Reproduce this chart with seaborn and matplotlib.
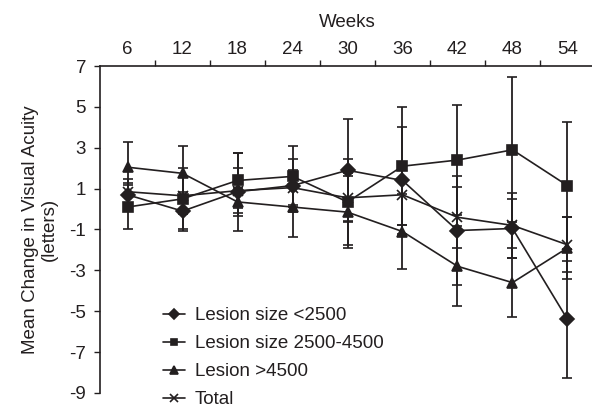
import pandas as pd
import matplotlib.pyplot as plt
import seaborn as sns

sns.set_style("white")
plt.rcParams["font.family"] = ["Liberation Sans", "DejaVu Sans"]

INK = "#231f20"
FS = 13.5

weeks = [6, 12, 18, 24, 30, 36, 42, 48, 54]
groups = ["Lesion size <2500", "Lesion size 2500-4500", "Lesion >4500", "Total"]

small = [0.7, -0.1, 0.85, 1.15, 1.9, 1.4, -1.05, -0.95, -5.4]
small_err = [0.6, 0.95, 1.9, 1.3, 2.5, 2.6, 2.65, 1.45, 2.85]
mid = [0.1, 0.5, 1.4, 1.6, 0.35, 2.1, 2.4, 2.9, 1.15]
mid_err = [1.1, 1.5, 1.35, 1.5, 2.1, 2.9, 2.7, 3.55, 3.1]
large = [2.05, 1.75, 0.35, 0.1, -0.15, -1.1, -2.8, -3.6, -1.9]
large_err = [1.25, 1.35, 0.7, 1.45, 1.75, 1.85, 1.95, 1.7, 1.5]
total = [0.85, 0.65, 0.9, 1.05, 0.55, 0.7, -0.4, -0.8, -1.75]
total_err = [0.6, 0.9, 1.1, 0.85, 1.2, 1.5, 1.5, 1.6, 1.35]

yticks = [7, 5, 3, 1, -1, -3, -5, -7, -9]

series = {
    groups[0]: (small, small_err, "D", 7),
    groups[1]: (mid, mid_err, "s", 6.5),
    groups[2]: (large, large_err, "^", 7),
    groups[3]: (total, total_err, "x", 7),
}

fig = plt.figure(figsize=(5.92, 4.08), dpi=100)
ax = fig.add_axes([0.169, 0.037, 0.836, 0.801])

for name, (vals, errs, mk, ms) in series.items():
    df = pd.DataFrame({"week": weeks, "change": vals})
    ax.errorbar(weeks, vals, yerr=errs, fmt="none", ecolor=INK,
                elinewidth=1.3, capsize=3.8, capthick=1.2, zorder=2)
    sns.lineplot(data=df, x="week", y="change", ax=ax, color=INK,
                 marker=mk, markersize=ms, markeredgecolor=INK,
                 markeredgewidth=1.2, linewidth=1.2, label=name, zorder=3)

ax.set_xlim(3, 57)
ax.set_ylim(-9, 7)

# x axis sits on top, ticks between categories, labels at centres
ax.xaxis.tick_top()
ax.xaxis.set_label_position("top")
ax.set_xticks(weeks)
ax.set_xticklabels([str(w) for w in weeks])
ax.set_xticks([w + 3 for w in weeks], minor=True)
ax.tick_params(axis="x", which="major", length=0, pad=6, labelsize=FS, colors=INK)
ax.tick_params(axis="x", which="minor", length=4, width=1, direction="out", color=INK)
ax.set_xlabel("Weeks", fontsize=FS, color=INK, labelpad=10)

ax.set_yticks(yticks)
ax.set_yticklabels([str(t) for t in yticks])
ax.tick_params(axis="y", length=4, width=1, direction="out", labelsize=FS,
               colors=INK, left=True, pad=6)
ax.set_ylabel("Mean Change in Visual Acuity\n(letters)", fontsize=FS,
              color=INK, labelpad=8)

for side in ["bottom", "right"]:
    ax.spines[side].set_visible(False)
for side in ["top", "left"]:
    ax.spines[side].set_color(INK)
    ax.spines[side].set_linewidth(1.2)

ax.legend(loc="upper left", bbox_to_anchor=(163 / 592, 1 - 307 / 408),
          bbox_transform=fig.transFigure, frameon=False, fontsize=FS,
          borderpad=0, borderaxespad=0, handlelength=1.15, handletextpad=0.55,
          labelspacing=0.58, markerscale=0.75, labelcolor=INK)

plt.savefig("out.png", dpi=100)
plt.close()
